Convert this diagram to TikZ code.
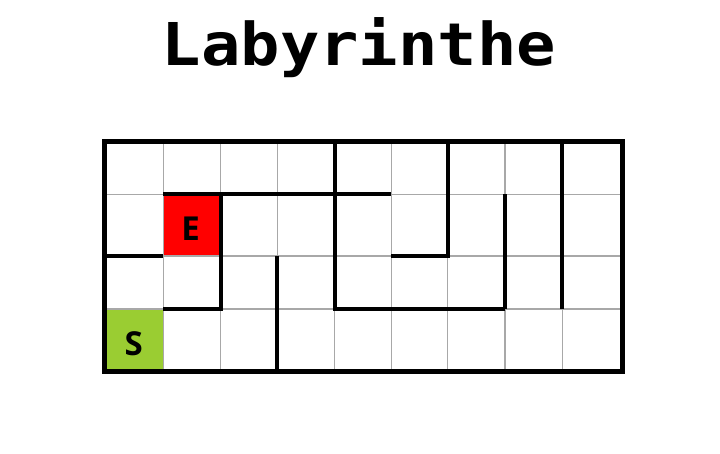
\documentclass[tikz,border=0pt]{standalone}
\usepackage{fontspec}
\usetikzlibrary{calc}
\newfontfamily\titlefont{DejaVu Sans Mono}[FakeStretch=1.11]
\newfontfamily\labfont{Open Sans}
\definecolor{startgreen}{HTML}{9ACD32}
\definecolor{gridgray}{HTML}{A8A8A8}
\tikzset{
  gridline/.style={draw=gridgray, line width=1.4pt},
  wall/.style={draw=black, line width=4.2pt, line cap=butt, line join=miter},
  border/.style={draw=black, line width=5pt, line join=miter},
  celllabel/.style={font=\labfont\bfseries\fontsize{33}{38}\selectfont, text=black, inner sep=0pt},
}
\begin{document}
\begin{tikzpicture}[x=1pt, y=-1pt]
\useasboundingbox (0,0) rectangle (720,453);
% grid points p-col-row
\foreach \xx [count=\i from 0] in {104,163.3,220.7,277.3,334.7,391.3,447.7,505,562.3,622}{
  \foreach \yy [count=\j from 0] in {141,194.3,256,309,371.5}{
    \coordinate (p-\i-\j) at (\xx,\yy);
  }
}
% title
\node[font=\titlefont\bfseries\fontsize{59}{66}\selectfont, anchor=base, inner sep=0pt] (title) at (359,65) {Labyrinthe};
% coloured cells
\fill[red] (p-1-1) rectangle (p-2-2);
\fill[startgreen] (p-0-3) rectangle (p-1-4);
% grid
\foreach \i in {1,...,8}{ \draw[gridline] (p-\i-0) -- (p-\i-4); }
\foreach \j in {1,2,3}{ \draw[gridline] (p-0-\j) -- (p-9-\j); }
% walls
\draw[wall] (p-1-1) -- (p-5-1);
\draw[wall] (p-4-0) -- (p-4-3) -- (p-7-3);
\draw[wall] (p-7-1) -- (p-7-3);
\draw[wall] (p-6-0) -- (p-6-2) -- (p-5-2);
\draw[wall] (p-8-0) -- (p-8-3);
\draw[wall] (p-2-1) -- (p-2-3) -- (p-1-3);
\draw[wall] (p-0-2) -- (p-1-2);
\draw[wall] (p-3-2) -- (p-3-4);
% border
\draw[border] (p-0-0) rectangle (p-9-4);
% labels
\node[celllabel] (E) at ($($(p-1-1)!0.5!(p-2-2)$)+(-1.5,3.5)$) {E};
\node[celllabel] (S) at ($($(p-0-3)!0.5!(p-1-4)$)+(0,3.5)$) {S};
\end{tikzpicture}
\end{document}
